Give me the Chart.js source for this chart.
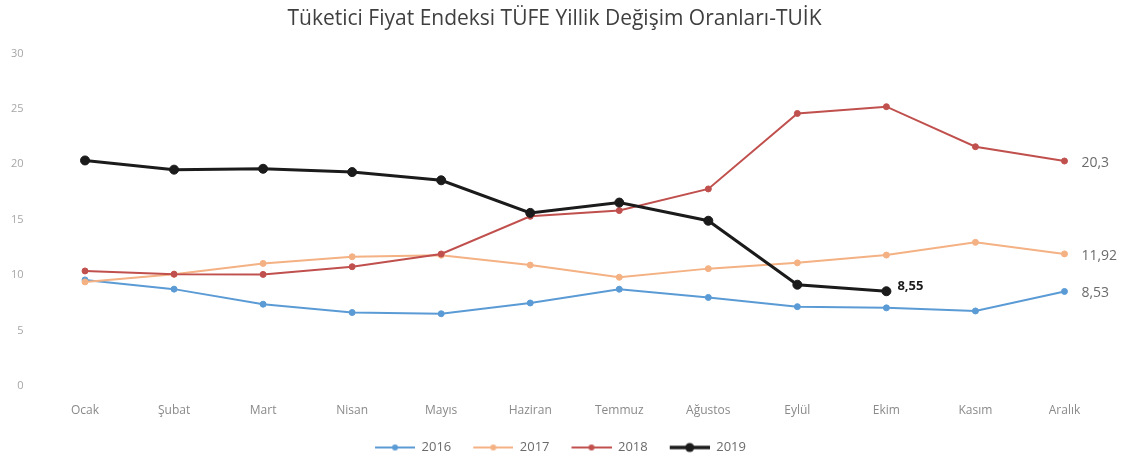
<!DOCTYPE html>
<html lang="tr">
<head>
<meta charset="utf-8">
<title>TÜFE Yıllık Değişim Oranları</title>
<script src="https://cdn.jsdelivr.net/npm/chart.js@4.4.1/dist/chart.umd.min.js"></script>
<style>
  html, body { margin: 0; padding: 0; background: #fff; }
  #wrap { width: 1139px; height: 463px; }
</style>
</head>
<body>
<div id="wrap"><canvas id="tufeChart"></canvas></div>
<script>
// Ay adları
const months = ["Ocak", "Şubat", "Mart", "Nisan", "Mayıs", "Haziran", "Temmuz", "Ağustos", "Eylül", "Ekim", "Kasım", "Aralık"];

// Yıllık değişim oranları (%)
const tufe2016 = [9.57, 8.74, 7.38, 6.63, 6.52, 7.49, 8.73, 7.99, 7.16, 7.05, 6.77, 8.53];
const tufe2017 = [9.39, 10.09, 11.06, 11.66, 11.8, 10.91, 9.81, 10.59, 11.11, 11.81, 12.96, 11.92];
const tufe2018 = [10.38, 10.09, 10.07, 10.76, 11.91, 15.31, 15.83, 17.78, 24.59, 25.2, 21.59, 20.3];
const tufe2019 = [20.35, 19.52, 19.6, 19.3, 18.56, 15.62, 16.55, 14.91, 9.14, 8.55, null, null];

const yTicks = [0, 5, 10, 15, 20, 25, 30];

// Değer etiketi yazılacak noktalar: [dataset sırası, ay sırası]
const labelledPoints = [[2, 11], [1, 11], [0, 11], [3, 9]];

const colors = { s2016: "#5b9bd5", s2017: "#f4b183", s2018: "#c0504d", s2019: "#1b1b1b" };

// Lejant için çizgi + nokta simgesi
function legendIcon(color, lineWidth, radius) {
    const c = document.createElement("canvas");
    c.width = 52;
    c.height = 12;
    const g = c.getContext("2d");
    g.strokeStyle = color;
    g.lineWidth = lineWidth;
    g.beginPath();
    g.moveTo(12, 6);
    g.lineTo(52, 6);
    g.stroke();
    g.fillStyle = color;
    g.beginPath();
    g.arc(32, 6, radius, 0, Math.PI * 2);
    g.fill();
    return c;
}

function formatTr(v) {
    return String(v).replace(".", ",");
}

// Noktaların yanına değerleri yazan eklenti
const pointValueLabels = {
    id: "pointValueLabels",
    afterDatasetsDraw(chart) {
        const ctx = chart.ctx;
        ctx.save();
        ctx.textBaseline = "middle";
        ctx.textAlign = "left";
        labelledPoints.forEach(([ds, idx]) => {
            const pt = chart.getDatasetMeta(ds).data[idx];
            const value = chart.data.datasets[ds].data[idx];
            if (ds === 3) {
                ctx.font = "bold 13px 'Open Sans', sans-serif";
                ctx.fillStyle = "#1b1b1b";
                ctx.fillText(formatTr(value), pt.x + 11, pt.y - 5);
            } else {
                ctx.font = "14px 'Open Sans', sans-serif";
                ctx.fillStyle = "#6b6b6b";
                ctx.fillText(formatTr(value), pt.x + 17, pt.y + 2);
            }
        });
        ctx.restore();
    }
};

function lineDataset(label, data, color, order, width, radius) {
    return {
        label: label,
        data: data,
        borderColor: color,
        backgroundColor: color,
        pointBackgroundColor: color,
        pointBorderColor: color,
        borderWidth: width,
        pointRadius: radius,
        pointBorderWidth: 1,
        fill: false,
        tension: 0,
        order: order,
    };
}

const icons = [
    legendIcon(colors.s2016, 2, 3),
    legendIcon(colors.s2017, 2, 3),
    legendIcon(colors.s2018, 2, 3),
    legendIcon(colors.s2019, 3.5, 4.5),
];

const ctx = document.getElementById("tufeChart").getContext("2d");
const tufeChart = new Chart(ctx, {
    type: "line",
    data: {
        labels: months,
        datasets: [
            lineDataset("2016", tufe2016, colors.s2016, 3, 2, 3),
            lineDataset("2017", tufe2017, colors.s2017, 2, 2, 3),
            lineDataset("2018", tufe2018, colors.s2018, 1, 2, 3),
            lineDataset("2019", tufe2019, colors.s2019, 0, 3, 4.5),
        ],
    },
    options: {
        responsive: true,
        maintainAspectRatio: false,
        animation: false,
        layout: { padding: { left: 0, right: 30, top: 0, bottom: -1 } },
        plugins: {
            title: {
                display: true,
                text: "Tüketici Fiyat Endeksi TÜFE Yillik Değişim Oranları-TUİK",
                color: "#3f3f3f",
                font: { family: "'Open Sans', sans-serif", size: 21, weight: "normal" },
                padding: { top: 6, bottom: 22.3 },
            },
            legend: {
                position: "bottom",
                labels: {
                    usePointStyle: true,
                    pointStyleWidth: 52,
                    padding: 10,
                    color: "#6b6b6b",
                    font: { family: "'Open Sans', sans-serif", size: 13 },
                    generateLabels(chart) {
                        const items = Chart.defaults.plugins.legend.labels.generateLabels(chart);
                        items.sort((a, b) => a.datasetIndex - b.datasetIndex);
                        items.forEach(item => { item.pointStyle = icons[item.datasetIndex]; });
                        return items;
                    },
                },
            },
            tooltip: { enabled: false },
        },
        scales: {
            x: {
                offset: true,
                grid: { display: false, drawTicks: false },
                border: { display: false },
                ticks: {
                    color: "#8a8a8a",
                    padding: 17,
                    maxRotation: 0,
                    font: { family: "'Open Sans', sans-serif", size: 12 },
                },
                afterFit(scale) { scale.height = 45; },
            },
            y: {
                min: 0,
                max: 30,
                grid: { display: false, drawTicks: false },
                border: { display: false },
                afterBuildTicks(scale) { scale.ticks = yTicks.map(v => ({ value: v })); },
                ticks: {
                    color: "#a6a6a6",
                    padding: 17,
                    font: { family: "'Open Sans', sans-serif", size: 11 },
                },
                afterFit(scale) { scale.width = 40.5; },
            },
        },
    },
    plugins: [pointValueLabels],
});
</script>
</body>
</html>
